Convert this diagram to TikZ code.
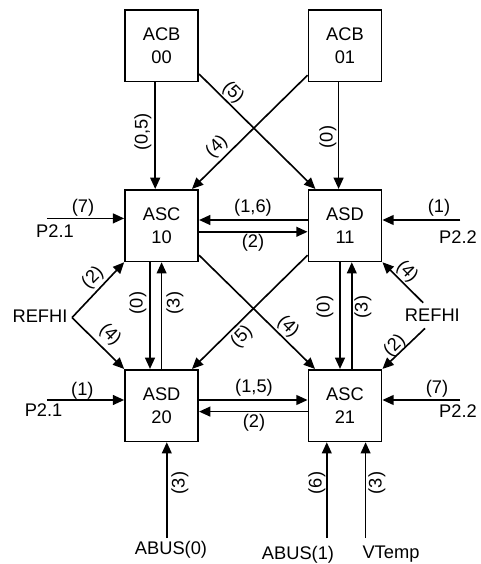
\documentclass[tikz,border=0pt]{standalone}
\usepackage{fontspec}
\setmainfont{Liberation Sans}
\usetikzlibrary{arrows.meta}
\begin{document}
\begin{tikzpicture}[x=1cm, y=1cm, >={Triangle[length=8pt,width=7pt]}, line width=1.15pt,
	every node/.style={font=\fontsize{13}{16.4}\selectfont, inner sep=0pt},
	blk/.style={draw, line width=1.2pt, minimum width=1.83cm, minimum height=1.79cm, align=center}]
	\useasboundingbox (0,0) rectangle (12.025,14.1);
	
	% 模块
	\node[blk] (acb00) at (4.04,12.96) {ACB\\00};
	\node[blk] (acb01) at (8.625,12.96) {ACB\\01};
	\node[blk] (asc10) at (4.04,8.46) {ASC\\10};
	\node[blk] (asd11) at (8.625,8.46) {ASD\\11};
	\node[blk] (asd20) at (4.04,3.96) {ASD\\20};
	\node[blk] (asc21) at (8.625,3.96) {ASC\\21};
	
	% 外部输入
	\node (p21a) at (1.375,8.33) {P2.1};
	\node (p21b) at (1.09,3.85) {P2.1};
	\node (p22a) at (11.45,8.175) {P2.2};
	\node (p22b) at (11.45,3.825) {P2.2};
	\node (refl) at (1.0,6.19) {REFHI};
	\node (refr) at (10.81,6.225) {REFHI};
	\node (abus0) at (4.275,0.35) {ABUS(0)};
	\node (abus1) at (7.45,0.225) {ABUS(1)};
	\node (vtemp) at (9.775,0.25) {VTemp};
	
	\coordinate (P1) at (1.17,8.64);
	\coordinate (P2) at (1.17,4.1);
	\coordinate (P3) at (11.51,8.6);
	\coordinate (P4) at (11.51,4.1);
	\coordinate (RL) at (1.8,6.16);
	\coordinate (RR1) at (10.58,6.53);
	\coordinate (RR2) at (10.625,5.89);
	\coordinate (B0) at (4.17,0.65);
	\coordinate (B1) at (8.17,0.65);
	\coordinate (B2) at (9.14,0.65);
	
	% 竖直连线
	\draw[->] ([xshift=-0.16cm]acb00.south) -- ([xshift=-0.16cm]asc10.north);
	\draw[->] ([xshift=-0.16cm]acb01.south) -- ([xshift=-0.16cm]asd11.north);
	\draw[->] ([xshift=-0.29cm]asc10.south) -- ([xshift=-0.29cm]asd20.north);
	\draw[->] (asd20.north) -- (asc10.south);
	\draw[->] ([xshift=-0.125cm]asd11.south) -- ([xshift=-0.125cm]asc21.north);
	\draw[->] ([xshift=0.17cm]asc21.north) -- ([xshift=0.17cm]asd11.south);
	
	% 交叉连线
	\draw[->] ([yshift=-0.71cm]acb00.east) -- ([xshift=-0.74cm]asd11.north);
	\draw[->] ([yshift=-0.74cm]acb01.west) -- ([xshift=0.76cm]asc10.north);
	\draw[->] ([yshift=-0.74cm]asc10.east) -- ([xshift=-0.75cm]asc21.north);
	\draw[->] ([yshift=-0.74cm]asd11.west) -- ([xshift=0.76cm]asd20.north);
	
	% 水平连线
	\draw[->] ([yshift=0.14cm]asd11.west) -- ([yshift=0.14cm]asc10.east);
	\draw[->] ([yshift=-0.155cm]asc10.east) -- ([yshift=-0.155cm]asd11.west);
	\draw[->] ([yshift=0.14cm]asd20.east) -- ([yshift=0.14cm]asc21.west);
	\draw[->] ([yshift=-0.15cm]asc21.west) -- ([yshift=-0.15cm]asd20.east);
	
	% 输入连线
	\draw[->] (P1) -- (P1 -| asc10.west);
	\draw[->] (P2) -- (P2 -| asd20.west);
	\draw[->] (P3) -- (P3 -| asd11.east);
	\draw[->] (P4) -- (P4 -| asc21.east);
	\draw[->] (RL) -- (asc10.south west);
	\draw[->] (RL) -- (asd20.north west);
	\draw[->] (RR1) -- (asd11.south east);
	\draw[->] (RR2) -- (asc21.north east);
	\draw[->] (B0) -- (B0 |- asd20.south);
	\draw[->] (B1) -- (B1 |- asc21.south);
	\draw[->] (B2) -- (B2 |- asc21.south);
	
	% 标号
	\node[rotate=90] (l05) at (3.575,10.8) {(0,5)};
	\node[rotate=90] (l0a) at (8.2,10.675) {(0)};
	\node[rotate=-45] (l5a) at (5.825,11.775) {(5)};
	\node[rotate=45] (l4a) at (5.425,10.425) {(4)};
	\node (l7a) at (2.075,8.9) {(7)};
	\node (l1a) at (10.975,8.9) {(1)};
	\node (l16) at (6.325,8.9) {(1,6)};
	\node (l2a) at (6.325,8.025) {(2)};
	\node[rotate=45] (l2b) at (2.325,7.15) {(2)};
	\node[rotate=-45] (l4b) at (2.75,5.725) {(4)};
	\node[rotate=90] (l0b) at (3.45,6.525) {(0)};
	\node[rotate=90] (l3a) at (4.375,6.525) {(3)};
	\node[rotate=90] (l0c) at (8.125,6.425) {(0)};
	\node[rotate=90] (l3b) at (9.075,6.425) {(3)};
	\node[rotate=-45] (l4c) at (7.2,5.925) {(4)};
	\node[rotate=45] (l5b) at (6.05,5.675) {(5)};
	\node[rotate=-45] (l4d) at (10.175,7.3) {(4)};
	\node[rotate=45] (l2c) at (9.875,5.45) {(2)};
	\node (l1b) at (2.06,4.325) {(1)};
	\node (l7b) at (10.925,4.375) {(7)};
	\node (l15) at (6.35,4.4) {(1,5)};
	\node (l2d) at (6.35,3.525) {(2)};
	\node[rotate=90] (l3c) at (4.5,2.025) {(3)};
	\node[rotate=90] (l6) at (7.925,2.025) {(6)};
	\node[rotate=90] (l3d) at (9.425,2.025) {(3)};
\end{tikzpicture}
\end{document}
